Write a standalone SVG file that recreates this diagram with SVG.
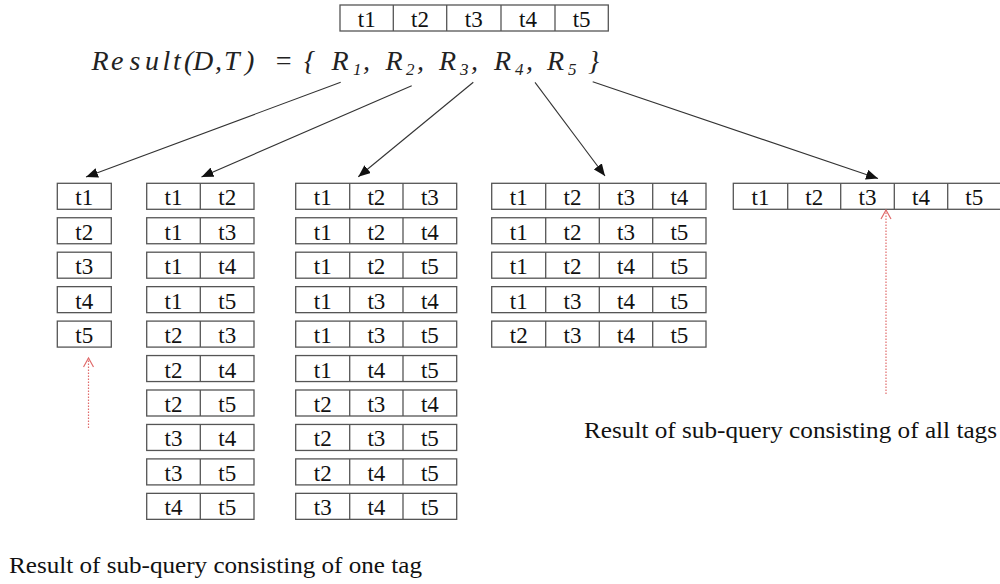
<svg xmlns="http://www.w3.org/2000/svg" width="1000" height="584" viewBox="0 0 1000 584">
  <style>
    .cell rect { fill: #ffffff; stroke: #555555; stroke-width: 1.3; }
    .cell line { stroke: #555555; stroke-width: 1.3; }
    .cell text { font-family: "Liberation Serif", "Times New Roman", serif; font-size: 23px; fill: #111111; text-anchor: middle; }
    .formula { font-family: "Liberation Serif", "Times New Roman", serif; font-style: italic; font-size: 28px; fill: #222222; }
    .sub { font-size: 17px; }
    .caption { font-family: "Liberation Serif", "Times New Roman", serif; font-size: 22.5px; fill: #111111; }
    .link { stroke: #333333; stroke-width: 1.1; fill: none; }
    .hint { stroke: #e06a6a; stroke-width: 1.2; stroke-dasharray: 1.6 1.4; fill: none; }
  </style>
  <defs>
    <marker id="head" markerWidth="13" markerHeight="10" refX="12" refY="5" orient="auto" markerUnits="userSpaceOnUse">
      <path d="M0,0 L12,5 L0,10 Z" fill="#111111"/>
    </marker>
    <marker id="open-head" markerWidth="12" markerHeight="12" refX="10" refY="6" orient="auto" markerUnits="userSpaceOnUse">
      <path d="M1,1 L10,6 L1,11" fill="none" stroke="#e06a6a" stroke-width="1.2"/>
    </marker>
  </defs>

  <!-- tag set T -->
  <g id="tags" class="cell" transform="translate(340,5)">
    <rect width="268.3" height="26"/>
    <line x1="53.3" y1="0" x2="53.3" y2="26"/>
    <line x1="106.7" y1="0" x2="106.7" y2="26"/>
    <line x1="161" y1="0" x2="161" y2="26"/>
    <line x1="215" y1="0" x2="215" y2="26"/>
    <text x="26.7" y="22">t1</text>
    <text x="80" y="22">t2</text>
    <text x="133.8" y="22">t3</text>
    <text x="188" y="22">t4</text>
    <text x="241.6" y="22">t5</text>
  </g>

  <!-- result formula -->
  <g id="formula" class="formula">
    <text x="91.5 111 129.5 145 162.5 173 184 193 215 224 245" y="70">Result(D,T)</text>
    <text x="274" y="70">=</text>
    <text x="304" y="70">{</text>
    <text x="331.5" y="70">R</text><text class="sub" x="353" y="75">1</text><text x="363" y="70">,</text>
    <text x="385.4" y="70">R</text><text class="sub" x="406" y="75">2</text><text x="417" y="70">,</text>
    <text x="439" y="70">R</text><text class="sub" x="460" y="75">3</text><text x="471" y="70">,</text>
    <text x="494" y="70">R</text><text class="sub" x="515" y="75">4</text><text x="526" y="70">,</text>
    <text x="547" y="70">R</text><text class="sub" x="568" y="75">5</text>
    <text x="588" y="70">}</text>
  </g>

  <!-- R1: single tags -->
  <g id="r1-1" class="cell" transform="translate(57.3,183.3)"><rect width="54" height="26"/><text x="27" y="22">t1</text></g>
  <g id="r1-2" class="cell" transform="translate(57.3,217.75)"><rect width="54" height="26"/><text x="27" y="22">t2</text></g>
  <g id="r1-3" class="cell" transform="translate(57.3,252.2)"><rect width="54" height="26"/><text x="27" y="22">t3</text></g>
  <g id="r1-4" class="cell" transform="translate(57.3,286.65)"><rect width="54" height="26"/><text x="27" y="22">t4</text></g>
  <g id="r1-5" class="cell" transform="translate(57.3,321.1)"><rect width="54" height="26"/><text x="27" y="22">t5</text></g>

  <!-- R2: pairs of tags -->
  <g id="r2-1" class="cell" transform="translate(146.7,183.3)"><rect width="107.3" height="26"/><line x1="53.6" y1="0" x2="53.6" y2="26"/><text x="26.8" y="22">t1</text><text x="80.5" y="22">t2</text></g>
  <g id="r2-2" class="cell" transform="translate(146.7,217.75)"><rect width="107.3" height="26"/><line x1="53.6" y1="0" x2="53.6" y2="26"/><text x="26.8" y="22">t1</text><text x="80.5" y="22">t3</text></g>
  <g id="r2-3" class="cell" transform="translate(146.7,252.2)"><rect width="107.3" height="26"/><line x1="53.6" y1="0" x2="53.6" y2="26"/><text x="26.8" y="22">t1</text><text x="80.5" y="22">t4</text></g>
  <g id="r2-4" class="cell" transform="translate(146.7,286.65)"><rect width="107.3" height="26"/><line x1="53.6" y1="0" x2="53.6" y2="26"/><text x="26.8" y="22">t1</text><text x="80.5" y="22">t5</text></g>
  <g id="r2-5" class="cell" transform="translate(146.7,321.1)"><rect width="107.3" height="26"/><line x1="53.6" y1="0" x2="53.6" y2="26"/><text x="26.8" y="22">t2</text><text x="80.5" y="22">t3</text></g>
  <g id="r2-6" class="cell" transform="translate(146.7,355.55)"><rect width="107.3" height="26"/><line x1="53.6" y1="0" x2="53.6" y2="26"/><text x="26.8" y="22">t2</text><text x="80.5" y="22">t4</text></g>
  <g id="r2-7" class="cell" transform="translate(146.7,390)"><rect width="107.3" height="26"/><line x1="53.6" y1="0" x2="53.6" y2="26"/><text x="26.8" y="22">t2</text><text x="80.5" y="22">t5</text></g>
  <g id="r2-8" class="cell" transform="translate(146.7,424.45)"><rect width="107.3" height="26"/><line x1="53.6" y1="0" x2="53.6" y2="26"/><text x="26.8" y="22">t3</text><text x="80.5" y="22">t4</text></g>
  <g id="r2-9" class="cell" transform="translate(146.7,458.9)"><rect width="107.3" height="26"/><line x1="53.6" y1="0" x2="53.6" y2="26"/><text x="26.8" y="22">t3</text><text x="80.5" y="22">t5</text></g>
  <g id="r2-10" class="cell" transform="translate(146.7,493.35)"><rect width="107.3" height="26"/><line x1="53.6" y1="0" x2="53.6" y2="26"/><text x="26.8" y="22">t4</text><text x="80.5" y="22">t5</text></g>

  <!-- R3: triples of tags -->
  <g id="r3-1" class="cell" transform="translate(295.7,183.3)"><rect width="161" height="26"/><line x1="54" y1="0" x2="54" y2="26"/><line x1="107.3" y1="0" x2="107.3" y2="26"/><text x="27" y="22">t1</text><text x="80.7" y="22">t2</text><text x="134.2" y="22">t3</text></g>
  <g id="r3-2" class="cell" transform="translate(295.7,217.75)"><rect width="161" height="26"/><line x1="54" y1="0" x2="54" y2="26"/><line x1="107.3" y1="0" x2="107.3" y2="26"/><text x="27" y="22">t1</text><text x="80.7" y="22">t2</text><text x="134.2" y="22">t4</text></g>
  <g id="r3-3" class="cell" transform="translate(295.7,252.2)"><rect width="161" height="26"/><line x1="54" y1="0" x2="54" y2="26"/><line x1="107.3" y1="0" x2="107.3" y2="26"/><text x="27" y="22">t1</text><text x="80.7" y="22">t2</text><text x="134.2" y="22">t5</text></g>
  <g id="r3-4" class="cell" transform="translate(295.7,286.65)"><rect width="161" height="26"/><line x1="54" y1="0" x2="54" y2="26"/><line x1="107.3" y1="0" x2="107.3" y2="26"/><text x="27" y="22">t1</text><text x="80.7" y="22">t3</text><text x="134.2" y="22">t4</text></g>
  <g id="r3-5" class="cell" transform="translate(295.7,321.1)"><rect width="161" height="26"/><line x1="54" y1="0" x2="54" y2="26"/><line x1="107.3" y1="0" x2="107.3" y2="26"/><text x="27" y="22">t1</text><text x="80.7" y="22">t3</text><text x="134.2" y="22">t5</text></g>
  <g id="r3-6" class="cell" transform="translate(295.7,355.55)"><rect width="161" height="26"/><line x1="54" y1="0" x2="54" y2="26"/><line x1="107.3" y1="0" x2="107.3" y2="26"/><text x="27" y="22">t1</text><text x="80.7" y="22">t4</text><text x="134.2" y="22">t5</text></g>
  <g id="r3-7" class="cell" transform="translate(295.7,390)"><rect width="161" height="26"/><line x1="54" y1="0" x2="54" y2="26"/><line x1="107.3" y1="0" x2="107.3" y2="26"/><text x="27" y="22">t2</text><text x="80.7" y="22">t3</text><text x="134.2" y="22">t4</text></g>
  <g id="r3-8" class="cell" transform="translate(295.7,424.45)"><rect width="161" height="26"/><line x1="54" y1="0" x2="54" y2="26"/><line x1="107.3" y1="0" x2="107.3" y2="26"/><text x="27" y="22">t2</text><text x="80.7" y="22">t3</text><text x="134.2" y="22">t5</text></g>
  <g id="r3-9" class="cell" transform="translate(295.7,458.9)"><rect width="161" height="26"/><line x1="54" y1="0" x2="54" y2="26"/><line x1="107.3" y1="0" x2="107.3" y2="26"/><text x="27" y="22">t2</text><text x="80.7" y="22">t4</text><text x="134.2" y="22">t5</text></g>
  <g id="r3-10" class="cell" transform="translate(295.7,493.35)"><rect width="161" height="26"/><line x1="54" y1="0" x2="54" y2="26"/><line x1="107.3" y1="0" x2="107.3" y2="26"/><text x="27" y="22">t3</text><text x="80.7" y="22">t4</text><text x="134.2" y="22">t5</text></g>

  <!-- R4: quadruples of tags -->
  <g id="r4-1" class="cell" transform="translate(491.7,183.3)"><rect width="214.3" height="26"/><line x1="54" y1="0" x2="54" y2="26"/><line x1="107.6" y1="0" x2="107.6" y2="26"/><line x1="161" y1="0" x2="161" y2="26"/><text x="27" y="22">t1</text><text x="80.8" y="22">t2</text><text x="134.3" y="22">t3</text><text x="187.7" y="22">t4</text></g>
  <g id="r4-2" class="cell" transform="translate(491.7,217.75)"><rect width="214.3" height="26"/><line x1="54" y1="0" x2="54" y2="26"/><line x1="107.6" y1="0" x2="107.6" y2="26"/><line x1="161" y1="0" x2="161" y2="26"/><text x="27" y="22">t1</text><text x="80.8" y="22">t2</text><text x="134.3" y="22">t3</text><text x="187.7" y="22">t5</text></g>
  <g id="r4-3" class="cell" transform="translate(491.7,252.2)"><rect width="214.3" height="26"/><line x1="54" y1="0" x2="54" y2="26"/><line x1="107.6" y1="0" x2="107.6" y2="26"/><line x1="161" y1="0" x2="161" y2="26"/><text x="27" y="22">t1</text><text x="80.8" y="22">t2</text><text x="134.3" y="22">t4</text><text x="187.7" y="22">t5</text></g>
  <g id="r4-4" class="cell" transform="translate(491.7,286.65)"><rect width="214.3" height="26"/><line x1="54" y1="0" x2="54" y2="26"/><line x1="107.6" y1="0" x2="107.6" y2="26"/><line x1="161" y1="0" x2="161" y2="26"/><text x="27" y="22">t1</text><text x="80.8" y="22">t3</text><text x="134.3" y="22">t4</text><text x="187.7" y="22">t5</text></g>
  <g id="r4-5" class="cell" transform="translate(491.7,321.1)"><rect width="214.3" height="26"/><line x1="54" y1="0" x2="54" y2="26"/><line x1="107.6" y1="0" x2="107.6" y2="26"/><line x1="161" y1="0" x2="161" y2="26"/><text x="27" y="22">t2</text><text x="80.8" y="22">t3</text><text x="134.3" y="22">t4</text><text x="187.7" y="22">t5</text></g>

  <!-- R5: all tags -->
  <g id="r5-1" class="cell" transform="translate(733.3,183.3)"><rect width="268" height="26"/><line x1="54.4" y1="0" x2="54.4" y2="26"/><line x1="107.4" y1="0" x2="107.4" y2="26"/><line x1="161" y1="0" x2="161" y2="26"/><line x1="214.4" y1="0" x2="214.4" y2="26"/><text x="27.2" y="22">t1</text><text x="80.9" y="22">t2</text><text x="134.2" y="22">t3</text><text x="187.7" y="22">t4</text><text x="241" y="22">t5</text></g>

  <!-- captions -->
  <g id="caption-one">
    <text class="caption" x="9" y="573" textLength="413" lengthAdjust="spacingAndGlyphs">Result of sub-query consisting of one tag</text>
  </g>
  <g id="caption-all">
    <text class="caption" x="584" y="438" textLength="413" lengthAdjust="spacingAndGlyphs">Result of sub-query consisting of all tags</text>
  </g>

  <!-- connectors -->
  <g id="connectors">
    <line class="link" x1="340.7" y1="82.3" x2="86" y2="177" marker-end="url(#head)"/>
    <line class="link" x1="411.7" y1="85.7" x2="201.5" y2="177" marker-end="url(#head)"/>
    <line class="link" x1="473.3" y1="82.3" x2="358.3" y2="176.7" marker-end="url(#head)"/>
    <line class="link" x1="535" y1="82.3" x2="605" y2="176" marker-end="url(#head)"/>
    <line class="link" x1="592.7" y1="81.7" x2="878" y2="178.5" marker-end="url(#head)"/>
    <line class="hint" x1="88.5" y1="428" x2="88.5" y2="358" marker-end="url(#open-head)"/>
    <line class="hint" x1="886" y1="394" x2="886" y2="210" marker-end="url(#open-head)"/>
  </g>
</svg>
